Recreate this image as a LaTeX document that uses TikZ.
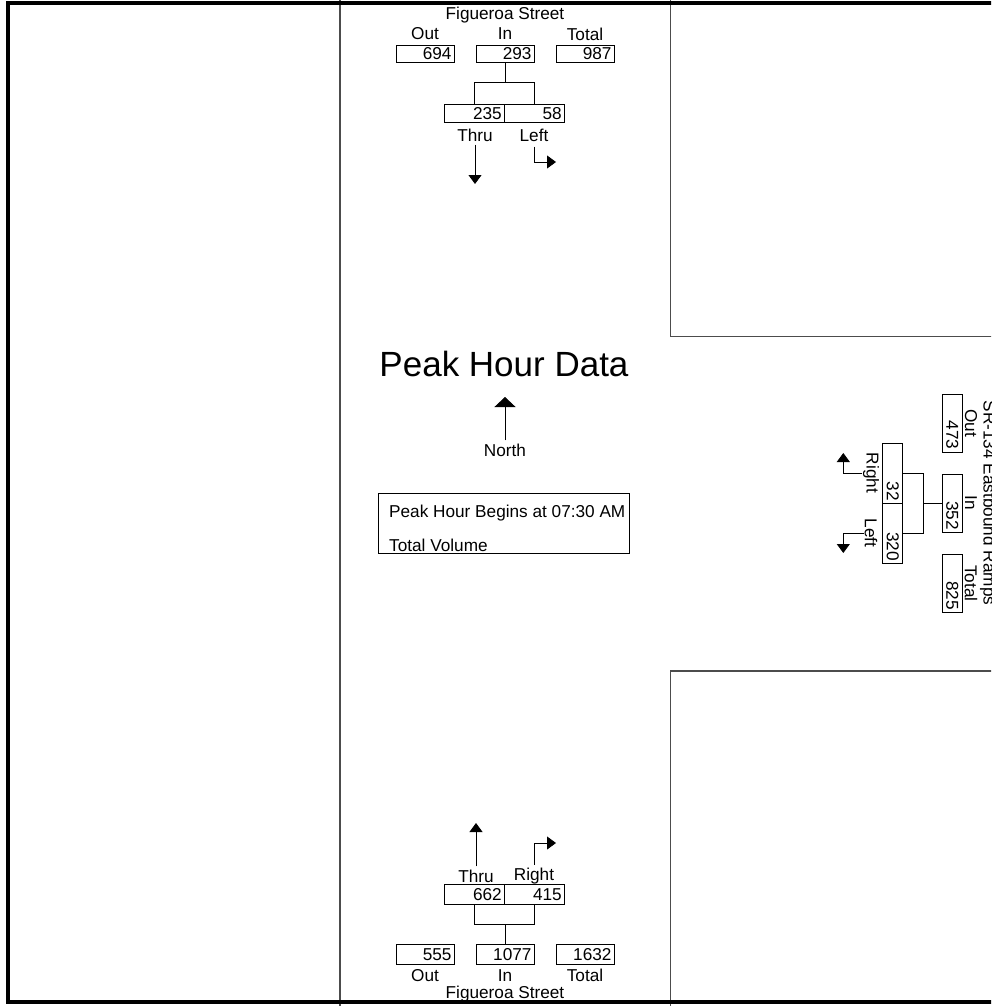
\documentclass[tikz,border=0pt]{standalone}
\usepackage{fontspec}
\setmainfont{Liberation Sans}
\usetikzlibrary{arrows.meta}
\begin{document}
\begin{tikzpicture}[x=1pt,y=-1pt,
    lbl/.style={font=\fontsize{17.2}{19}\selectfont, inner sep=0pt},
    vol/.style={draw, line width=0.8pt, font=\fontsize{17.2}{19}\selectfont, text width=53pt, align=right, inner xsep=2.5pt, inner ysep=0pt, minimum height=17pt},
    turn/.style={vol, text width=55pt},
    flow/.style={line width=0.8pt, -{Triangle[width=13pt,length=9pt]}},
    road/.style={line width=1.5pt, black!70}]
    \useasboundingbox (0,0) rectangle (991,1006);
    \clip (0,0) rectangle (991,1006);
    % road edges
    \draw[road] (340,0) -- (340,1006);
    \draw[road] (670.5,0) -- (670.5,336.5) -- (1000,336.5);
    \draw[road] (1000,671) -- (670.5,671) -- (670.5,1006);
    % north approach
    \node[lbl] (nname) at (505,15) {Figueroa Street};
    \node[lbl] at (425,34) {Out};
    \node[lbl] at (505,34) {In};
    \node[lbl] at (585,34) {Total};
    \node[vol] (nout) at (425,53.5) {694};
    \node[vol] (nin) at (505,53.5) {293};
    \node[vol] (ntot) at (585,53.5) {987};
    \node[turn, minimum height=18pt] (nthru) at (474.3,113.3) {235};
    \node[turn, minimum height=18pt] (nleft) at (534.3,113.3) {58};
    \draw[line width=0.8pt] (nin.south) -- (505,83);
    \draw[line width=0.8pt] (nthru.north) -- ++(0,-21) -| (nleft.north);
    \node[lbl] (nthrul) at (475,135) {Thru};
    \node[lbl] (nleftl) at (534,135) {Left};
    \draw[flow] (nthrul.south) ++(0,3) -- (475,184);
    \draw[flow] (nleftl.south) ++(0,5) |- (556,162);
    % centre
    \node[font=\fontsize{35}{38}\selectfont, inner sep=0pt] (title) at (504,364) {Peak Hour Data};
    \node[lbl] (north) at (505,450) {North};
    \draw[line width=0.8pt, -{Triangle[width=21pt,length=10pt]}] (north.north) ++(0,-3) -- (505,397);
    \node[draw, line width=0.8pt, minimum width=251pt, minimum height=60pt, inner sep=0pt] (info) at (503.4,523.3) {};
    \node[lbl, anchor=west] at (389,513) {Peak Hour Begins at 07:30 AM};
    \node[lbl, anchor=west] at (389,545) {Total Volume};
    % east approach
    \node[lbl, rotate=-90] (ename) at (988,503) {SR-134 Eastbound Ramps};
    \node[lbl, rotate=-90] at (971,423) {Out};
    \node[lbl, rotate=-90] at (971,503) {In};
    \node[lbl, rotate=-90] at (971,583.5) {Total};
    \node[vol, rotate=-90, minimum height=20pt] (eout) at (952.3,423) {473};
    \node[vol, rotate=-90, minimum height=20pt] (ein) at (952.3,503.3) {352};
    \node[vol, rotate=-90, minimum height=20pt] (etot) at (952.3,583.5) {825};
    \node[turn, rotate=-90, minimum height=20pt] (eright) at (892.7,473.3) {32};
    \node[turn, rotate=-90, minimum height=20pt] (eleft) at (892.7,533.3) {320};
    \draw[line width=0.8pt] (ein.south) -- (923,503.3);
    \draw[line width=0.8pt] (eright.north) -- ++(20.5,0) |- (eleft.north);
    \node[lbl, rotate=-90] (erightl) at (871,473) {Right};
    \node[lbl, rotate=-90] (eleftl) at (871,533) {Left};
    \draw[flow] (erightl.south) ++(-1,0) -| (843.3,453);
    \draw[flow] (eleftl.south) ++(-1,0) -| (843.3,553);
    % south approach
    \node[lbl] (sthrul) at (476,876) {Thru};
    \node[lbl] (srightl) at (534,876) {Right};
    \draw[flow] (sthrul.north) ++(0,-3) -- (476,823);
    \draw[flow] (srightl.north) ++(0,-3) |- (556,843);
    \node[turn, minimum height=20pt] (sthru) at (474.3,894.3) {662};
    \node[turn, minimum height=20pt] (sright) at (534.3,894.3) {415};
    \draw[line width=0.8pt] (sthru.south) -- ++(0,20) -| (sright.south);
    \node[vol, minimum height=20pt] (sout) at (425,954.3) {555};
    \node[vol, minimum height=20pt] (sin) at (505,954.3) {1077};
    \node[vol, minimum height=20pt] (stot) at (585,954.3) {1632};
    \draw[line width=0.8pt] (sin.north) -- (505,924.3);
    \node[lbl] at (425,975.7) {Out};
    \node[lbl] at (505,975.7) {In};
    \node[lbl] at (585,975.7) {Total};
    \node[lbl] (sname) at (505,994) {Figueroa Street};
    % frame
    \draw[line width=4pt] (8,3) rectangle (1010,1002);
\end{tikzpicture}
\end{document}
